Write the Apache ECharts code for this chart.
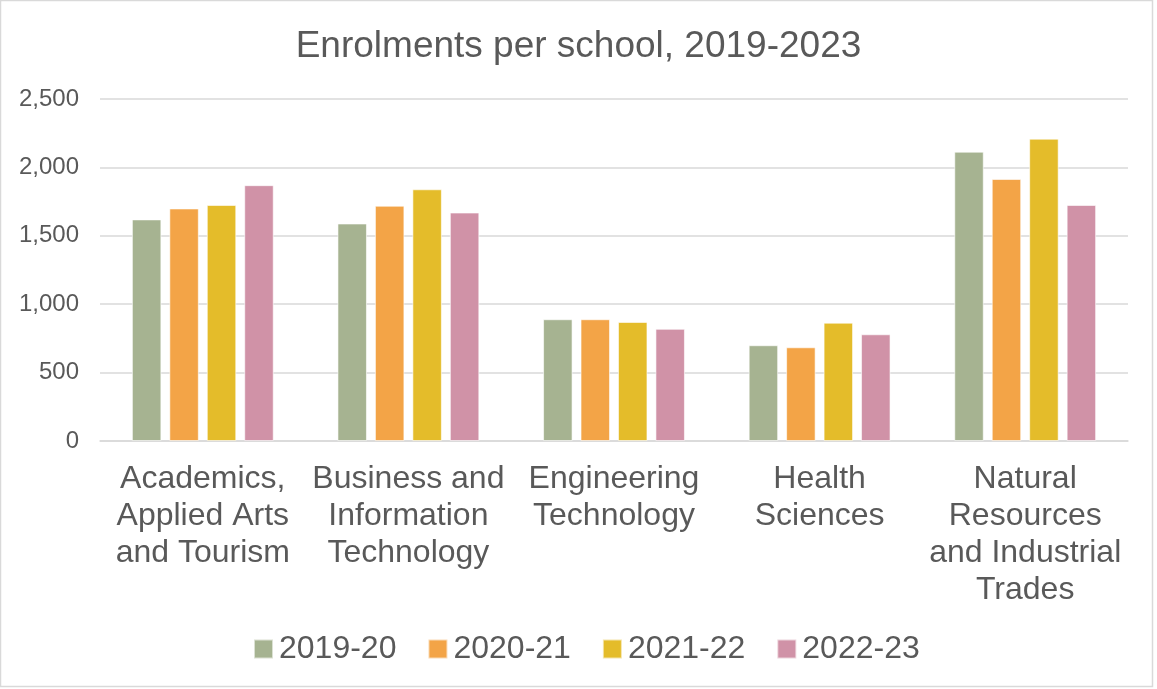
<!DOCTYPE html>
<html>
<head>
<meta charset="utf-8">
<title>Enrolments per school, 2019-2023</title>
<script src="https://cdn.jsdelivr.net/npm/echarts@6/dist/echarts.min.js"></script>
<style>
  html, body { margin: 0; padding: 0; background: #ffffff; }
  #chart { width: 1157px; height: 689px; }
</style>
</head>
<body>
<div id="chart"></div>
<script>
// Schools (axis labels wrapped onto several lines)
const schools = [
  "Academics,\nApplied Arts\nand Tourism",
  "Business and\nInformation\nTechnology",
  "Engineering\nTechnology",
  "Health\nSciences",
  "Natural\nResources\nand Industrial\nTrades"
];

// Academic years shown in the legend
const years = ["2019-20", "2020-21", "2021-22", "2022-23"];

// Enrolments for each year, one value per school
const enrol2019 = [1620, 1590, 890, 700, 2115];
const enrol2020 = [1700, 1720, 890, 685, 1915];
const enrol2021 = [1725, 1840, 870, 865, 2210];
const enrol2022 = [1870, 1670, 820, 780, 1725];

const yTicks = { min: 0, max: 2500, step: 500 };

const palette = ["#a6b391", "#f3a447", "#e4bc2a", "#d092a7"];
const textColor = "#595959";
const font = "Liberation Sans, Arial, sans-serif";

const seriesValues = [enrol2019, enrol2020, enrol2021, enrol2022];

const chart = echarts.init(document.getElementById("chart"), null, { renderer: "canvas" });

chart.setOption({
  animation: false,
  color: palette,
  textStyle: { fontFamily: font, color: textColor },
  title: {
    text: "Enrolments per school, 2019-2023",
    left: "center",
    top: 23,
    textStyle: { fontFamily: font, fontSize: 37, fontWeight: "normal", color: textColor }
  },
  graphic: [{
    type: "rect",
    shape: { x: 0.5, y: 0.5, width: 1152, height: 686 },
    style: { fill: "none", stroke: "#d9d9d9", lineWidth: 1.5 },
    silent: true
  }],
  legend: {
    data: years,
    bottom: 24,
    left: 253,
    padding: 0,
    itemWidth: 19,
    itemHeight: 19,
    itemGap: 31,
    icon: "rect",
    textStyle: { fontFamily: font, fontSize: 32, color: textColor, padding: [0, 0, 0, 1] }
  },
  grid: { left: 100, right: 29, top: 99, bottom: 248, containLabel: false },
  xAxis: {
    type: "category",
    data: schools,
    axisLine: { show: true, lineStyle: { color: "#d9d9d9", width: 1.5 } },
    axisTick: { show: false },
    axisLabel: {
      interval: 0,
      margin: 20,
      fontFamily: font,
      fontSize: 32,
      lineHeight: 37,
      color: textColor,
      align: "center"
    }
  },
  yAxis: {
    type: "value",
    min: yTicks.min,
    max: yTicks.max,
    interval: yTicks.step,
    axisLine: { show: false },
    axisTick: { show: false },
    splitLine: { lineStyle: { color: "#d9d9d9", width: 1.5 } },
    axisLabel: {
      margin: 21,
      fontFamily: font,
      fontSize: 24,
      color: textColor,
      formatter: v => v.toLocaleString("en-US")
    }
  },
  series: years.map((name, i) => ({
    name: name,
    type: "bar",
    data: seriesValues[i],
    barGap: "27%",
    barCategoryGap: "31%",
    itemStyle: { borderColor: "rgba(255,255,255,0.6)", borderWidth: 1 }
  }))
});
</script>
</body>
</html>
